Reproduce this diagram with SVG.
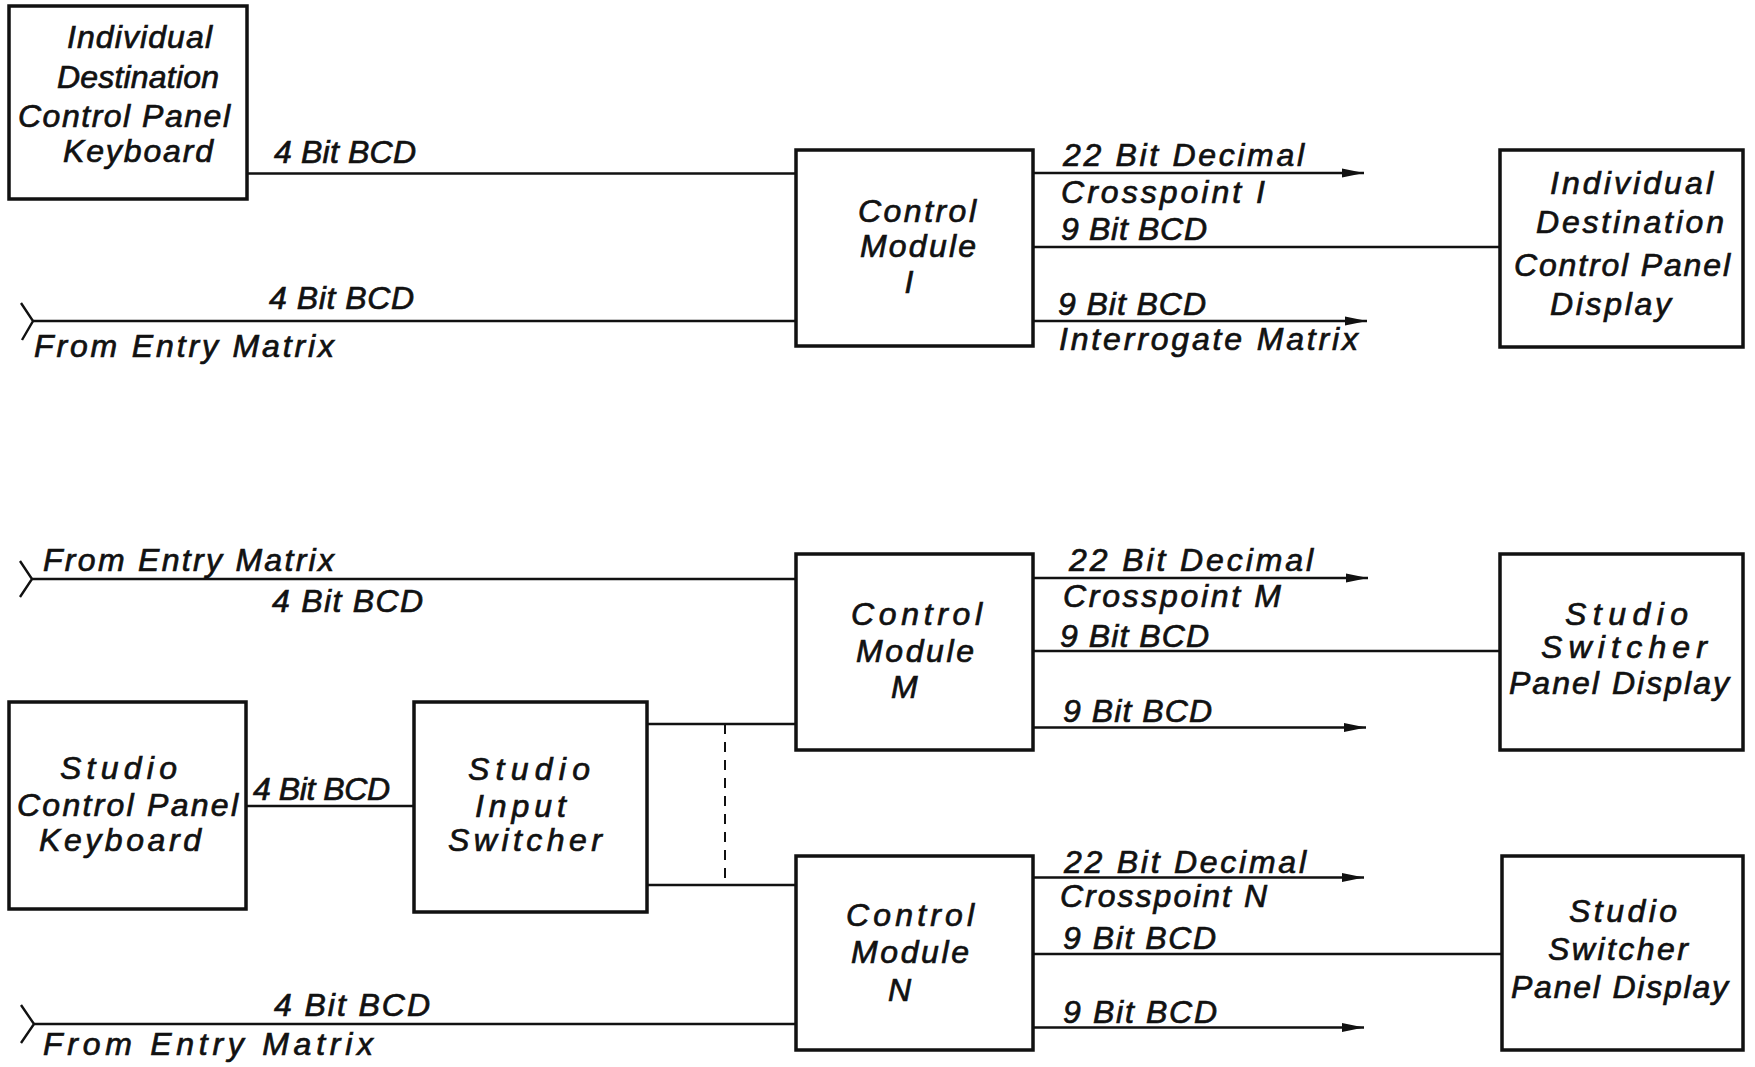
<svg xmlns="http://www.w3.org/2000/svg" width="1755" height="1067" viewBox="0 0 1755 1067">
<style>
.box{fill:#fff;stroke:#111;stroke-width:3.5}
.ln{fill:none;stroke:#111;stroke-width:2.4}
.dash{fill:none;stroke:#111;stroke-width:2;stroke-dasharray:10 8}
text{font-family:"Liberation Sans",Arial,sans-serif;font-style:italic;font-size:32px;fill:#111;stroke:#111;stroke-width:0.7}
.c{text-anchor:middle}
</style>
<defs>
<marker id="arr" viewBox="0 0 22 10" refX="22" refY="5" markerWidth="22" markerHeight="10" markerUnits="userSpaceOnUse" orient="auto">
<path d="M0,0.5 L22,5 L0,9.5 Z" fill="#111"/>
</marker>
</defs>
<rect width="1755" height="1067" fill="#fff"/>

<g id="connectors">
<!-- top section -->
<line class="ln" x1="247" y1="173.5" x2="796" y2="173.5"/>
<polyline class="ln" points="21,303 33,321 22,340"/>
<line class="ln" x1="33" y1="321" x2="796" y2="321"/>
<line class="ln" x1="1033" y1="173" x2="1364" y2="173" marker-end="url(#arr)"/>
<line class="ln" x1="1033" y1="247" x2="1500" y2="247"/>
<line class="ln" x1="1033" y1="321" x2="1367" y2="321" marker-end="url(#arr)"/>
<!-- bottom section -->
<polyline class="ln" points="20,561 32,579 20,597"/>
<line class="ln" x1="32" y1="579" x2="796" y2="579"/>
<line class="ln" x1="1033" y1="578" x2="1368" y2="578" marker-end="url(#arr)"/>
<line class="ln" x1="1033" y1="651" x2="1500" y2="651"/>
<line class="ln" x1="1033" y1="727.5" x2="1366" y2="727.5" marker-end="url(#arr)"/>
<line class="ln" x1="246" y1="806" x2="414" y2="806"/>
<line class="ln" x1="647" y1="724" x2="796" y2="724"/>
<line class="ln" x1="647" y1="885" x2="796" y2="885"/>
<line class="dash" x1="725" y1="724" x2="725" y2="885"/>
<line class="ln" x1="1033" y1="877.5" x2="1364" y2="877.5" marker-end="url(#arr)"/>
<line class="ln" x1="1033" y1="954" x2="1502" y2="954"/>
<line class="ln" x1="1033" y1="1027.5" x2="1364" y2="1027.5" marker-end="url(#arr)"/>
<polyline class="ln" points="21,1005 34,1024 21,1043"/>
<line class="ln" x1="34" y1="1024" x2="796" y2="1024"/>

<!-- labels -->
<text x="274" y="163" textLength="142" lengthAdjust="spacing">4 Bit BCD</text>
<text x="269" y="309" textLength="145" lengthAdjust="spacing">4 Bit BCD</text>
<text x="34" y="357" textLength="300" lengthAdjust="spacing">From Entry Matrix</text>
<text x="1063" y="166" textLength="241" lengthAdjust="spacing">22 Bit Decimal</text>
<text x="1061" y="203" textLength="204" lengthAdjust="spacing">Crosspoint  I</text>
<text x="1061" y="240" textLength="146" lengthAdjust="spacing">9 Bit BCD</text>
<text x="1058" y="315" textLength="148" lengthAdjust="spacing">9 Bit BCD</text>
<text x="1059" y="350" textLength="299" lengthAdjust="spacing">Interrogate Matrix</text>

<text x="43" y="571" textLength="291" lengthAdjust="spacing">From Entry Matrix</text>
<text x="272" y="612" textLength="151" lengthAdjust="spacing">4 Bit BCD</text>
<text x="1069" y="571" textLength="244" lengthAdjust="spacing">22 Bit Decimal</text>
<text x="1063" y="607" textLength="218" lengthAdjust="spacing">Crosspoint M</text>
<text x="1060" y="647" textLength="149" lengthAdjust="spacing">9 Bit BCD</text>
<text x="1063" y="722" textLength="149" lengthAdjust="spacing">9 Bit BCD</text>
<text x="253" y="800" textLength="137" lengthAdjust="spacing">4 Bit BCD</text>
<text x="1064" y="873" textLength="242" lengthAdjust="spacing">22 Bit Decimal</text>
<text x="1060" y="907" textLength="207" lengthAdjust="spacing">Crosspoint N</text>
<text x="1063" y="949" textLength="153" lengthAdjust="spacing">9 Bit BCD</text>
<text x="1063" y="1023" textLength="154" lengthAdjust="spacing">9 Bit BCD</text>
<text x="274" y="1016" textLength="156" lengthAdjust="spacing">4 Bit BCD</text>
<text x="43" y="1055" textLength="330" lengthAdjust="spacing">From Entry Matrix</text>
</g>

<g id="keyboard1">
<rect class="box" x="9" y="6" width="238" height="193"/>
<text x="67" y="48" textLength="145" lengthAdjust="spacing">Individual</text>
<text x="57" y="88" textLength="162" lengthAdjust="spacing">Destination</text>
<text x="18" y="127" textLength="212" lengthAdjust="spacing">Control Panel</text>
<text x="63" y="162" textLength="150" lengthAdjust="spacing">Keyboard</text>
</g>

<g id="controlI">
<rect class="box" x="796" y="150" width="237" height="196"/>
<text x="858" y="222" textLength="118" lengthAdjust="spacing">Control</text>
<text x="860" y="257" textLength="116" lengthAdjust="spacing">Module</text>
<text class="c" x="909" y="293">I</text>
</g>

<g id="display1">
<rect class="box" x="1500" y="150" width="243" height="197"/>
<text x="1550" y="194" textLength="163" lengthAdjust="spacing">Individual</text>
<text x="1536" y="233" textLength="188" lengthAdjust="spacing">Destination</text>
<text x="1514" y="276" textLength="216" lengthAdjust="spacing">Control Panel</text>
<text x="1550" y="315" textLength="121" lengthAdjust="spacing">Display</text>
</g>

<g id="controlM">
<rect class="box" x="796" y="554" width="237" height="196"/>
<text x="851" y="625" textLength="131" lengthAdjust="spacing">Control</text>
<text x="856" y="662" textLength="118" lengthAdjust="spacing">Module</text>
<text x="891" y="698">M</text>
</g>

<g id="displayM">
<rect class="box" x="1500" y="554" width="243" height="196"/>
<text x="1565" y="625" textLength="123" lengthAdjust="spacing">Studio</text>
<text x="1541" y="658" textLength="166" lengthAdjust="spacing">Switcher</text>
<text x="1509" y="694" textLength="220" lengthAdjust="spacing">Panel Display</text>
</g>

<g id="keyboard2">
<rect class="box" x="9" y="702" width="237" height="207"/>
<text x="60" y="779" textLength="117" lengthAdjust="spacing">Studio</text>
<text x="17" y="816" textLength="221" lengthAdjust="spacing">Control Panel</text>
<text x="39" y="851" textLength="162" lengthAdjust="spacing">Keyboard</text>
</g>

<g id="inputSwitcher">
<rect class="box" x="414" y="702" width="233" height="210"/>
<text x="468" y="780" textLength="122" lengthAdjust="spacing">Studio</text>
<text x="475" y="817" textLength="91" lengthAdjust="spacing">Input</text>
<text x="448" y="851" textLength="154" lengthAdjust="spacing">Switcher</text>
</g>

<g id="controlN">
<rect class="box" x="796" y="856" width="237" height="194"/>
<text x="846" y="926" textLength="128" lengthAdjust="spacing">Control</text>
<text x="851" y="963" textLength="118" lengthAdjust="spacing">Module</text>
<text x="888" y="1001">N</text>
</g>

<g id="displayN">
<rect class="box" x="1502" y="856" width="241" height="194"/>
<text x="1569" y="922" textLength="108" lengthAdjust="spacing">Studio</text>
<text x="1548" y="960" textLength="140" lengthAdjust="spacing">Switcher</text>
<text x="1511" y="998" textLength="217" lengthAdjust="spacing">Panel Display</text>
</g>
</svg>
